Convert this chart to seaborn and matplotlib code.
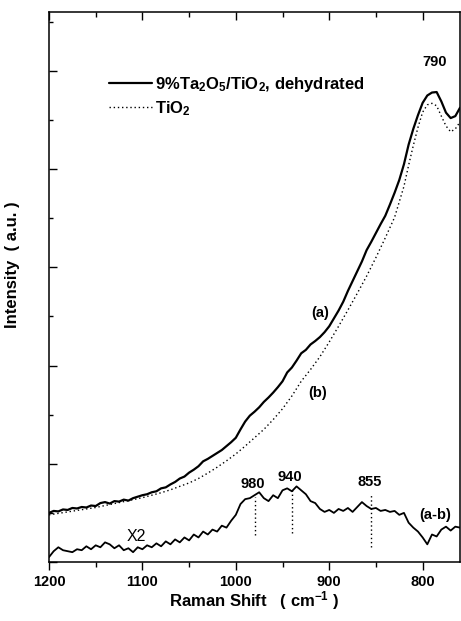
import numpy as np
import pandas as pd
import matplotlib
matplotlib.use("Agg")
import matplotlib.pyplot as plt
from matplotlib.ticker import MultipleLocator, NullFormatter
import seaborn as sns

# ---------------- data ----------------
# Raman shift grid (cm-1), 5 cm-1 steps
shift_a = list(range(1200, 755, -5))
intensity_a = [
    1.00, 1.04, 1.03, 1.07, 1.06, 1.10, 1.09, 1.12, 1.11, 1.15,
    1.14, 1.20, 1.22, 1.19, 1.24, 1.23, 1.27, 1.25, 1.30, 1.33,
    1.36, 1.38, 1.42, 1.44, 1.50, 1.52, 1.58, 1.63, 1.70, 1.74,
    1.82, 1.88, 1.95, 2.05, 2.10, 2.16, 2.22, 2.28, 2.36, 2.44,
    2.53, 2.70, 2.86, 2.98, 3.06, 3.15, 3.26, 3.35, 3.45, 3.56,
    3.68, 3.86, 3.96, 4.10, 4.25, 4.32, 4.43, 4.50, 4.58, 4.68,
    4.80, 4.96, 5.12, 5.30, 5.52, 5.72, 5.92, 6.12, 6.35, 6.52,
    6.70, 6.88, 7.05, 7.28, 7.52, 7.78, 8.10, 8.50, 8.82, 9.10,
    9.35, 9.50, 9.56, 9.57, 9.38, 9.15, 9.04, 9.08, 9.25,
]

shift_b = [1200, 1190, 1180, 1170, 1160, 1150, 1140, 1130, 1120, 1110,
           1100, 1090, 1080, 1070, 1060, 1050, 1040, 1030, 1020, 1010,
           1000, 990, 980, 970, 960, 950, 940, 930, 920, 910,
           900, 890, 880, 870, 860, 850, 840, 830, 820, 815,
           810, 805, 800, 795, 790, 785, 780, 775, 770, 765, 760]
intensity_b = [0.96, 0.99, 1.02, 1.05, 1.08, 1.11, 1.15, 1.19, 1.23, 1.27,
               1.31, 1.36, 1.41, 1.47, 1.54, 1.61, 1.70, 1.81, 1.93, 2.06,
               2.20, 2.36, 2.53, 2.70, 2.90, 3.12, 3.38, 3.68, 3.92, 4.18,
               4.48, 4.80, 5.13, 5.47, 5.82, 6.20, 6.60, 7.02, 7.65, 8.08,
               8.48, 8.85, 9.16, 9.31, 9.34, 9.29, 9.08, 8.88, 8.76, 8.82, 8.96]

shift_diff = shift_a
intensity_diff = [
    0.10, 0.22, 0.30, 0.24, 0.22, 0.20, 0.26, 0.24, 0.32, 0.26,
    0.34, 0.30, 0.40, 0.36, 0.28, 0.34, 0.24, 0.28, 0.20, 0.30,
    0.26, 0.34, 0.30, 0.38, 0.32, 0.42, 0.36, 0.46, 0.40, 0.50,
    0.44, 0.56, 0.50, 0.62, 0.56, 0.66, 0.62, 0.74, 0.70, 0.84,
    0.96, 1.18, 1.28, 1.30, 1.36, 1.42, 1.30, 1.24, 1.36, 1.30,
    1.46, 1.50, 1.44, 1.54, 1.46, 1.38, 1.24, 1.20, 1.08, 1.02,
    1.06, 1.00, 1.08, 1.04, 1.10, 1.02, 1.12, 1.22, 1.14, 1.08,
    1.10, 1.04, 1.06, 1.02, 1.04, 0.96, 1.00, 0.80, 0.70, 0.62,
    0.50, 0.36, 0.56, 0.52, 0.66, 0.72, 0.64, 0.72, 0.70,
]

peak_positions = [980, 940, 855]
peak_tops = [1.33, 1.47, 1.37]
peak_bottoms = [0.55, 0.59, 0.31]
peak_labels = ["980", "940", "855"]

x_ticks = [1200, 1100, 1000, 900, 800]
x_minor_ticks = [1150, 1050, 950, 850]

# ---------------- style ----------------
sns.set_style("ticks")
plt.rcParams['font.family'] = ['Liberation Sans', 'DejaVu Sans']
plt.rcParams['font.weight'] = 'bold'
plt.rcParams['text.color'] = 'black'
plt.rcParams['axes.labelcolor'] = 'black'
plt.rcParams['xtick.color'] = 'black'
plt.rcParams['ytick.color'] = 'black'
plt.rcParams['axes.edgecolor'] = 'black'
plt.rcParams['axes.linewidth'] = 1.1
plt.rcParams['mathtext.fontset'] = 'custom'
plt.rcParams['mathtext.rm'] = 'Liberation Sans:bold'
plt.rcParams['mathtext.bf'] = 'Liberation Sans:bold'
plt.rcParams['mathtext.it'] = 'Liberation Sans:bold'
plt.rcParams['mathtext.default'] = 'rm'

fig = plt.figure(figsize=(4.61, 6.21), dpi=100)
ax = fig.add_axes([49 / 461, (621 - 562) / 621, 411 / 461, 550 / 621])

df_a = pd.DataFrame({"shift": shift_a, "I": intensity_a})
df_b = pd.DataFrame({"shift": shift_b, "I": intensity_b})
df_d = pd.DataFrame({"shift": shift_diff, "I": intensity_diff})

sns.lineplot(data=df_a, x="shift", y="I", ax=ax, color="black", lw=1.6,
             label=r"9%Ta$_2$O$_5$/TiO$_2$, dehydrated", sort=False)
sns.lineplot(data=df_b, x="shift", y="I", ax=ax, color="black", lw=1.0,
             linestyle=(0, (1, 2)), label=r"TiO$_2$", sort=False)
sns.lineplot(data=df_d, x="shift", y="I", ax=ax, color="black", lw=1.3,
             sort=False, legend=False)

for xp, yt, yb, lab in zip(peak_positions, peak_tops, peak_bottoms, peak_labels):
    ax.plot([xp, xp], [yb, yt], color="black", lw=1.0, linestyle=(0, (1, 2)))
    ax.text(xp + 2, yt + 0.12, lab, ha="center", va="bottom",
            fontsize=10.5, fontweight="bold")

ax.text(910, 5.08, "(a)", ha="center", va="center", fontsize=10.5, fontweight="bold")
ax.text(912, 3.45, "(b)", ha="center", va="center", fontsize=10.5, fontweight="bold")
ax.text(787, 0.96, "(a-b)", ha="center", va="center", fontsize=10.5, fontweight="bold")
ax.text(787, 10.18, "790", ha="center", va="center", fontsize=10.5, fontweight="bold")
ax.text(1106, 0.51, "X2", ha="center", va="center", fontsize=11.5, fontweight="normal")

ax.set_xlim(1200, 760)
ax.set_ylim(0, 11.2)
ax.set_xticks(x_ticks)
ax.set_xticks(x_minor_ticks, minor=True)
ax.yaxis.set_major_locator(MultipleLocator(2))
ax.yaxis.set_minor_locator(MultipleLocator(1))
ax.yaxis.set_major_formatter(NullFormatter())

ax.tick_params(axis="x", which="both", bottom=True, top=False, direction="out",
               labelsize=10.5, pad=3, width=1.0)
ax.tick_params(axis="x", which="major", length=6)
ax.tick_params(axis="x", which="minor", length=3.5)
ax.tick_params(axis="y", which="both", left=True, direction="in", width=1.0)
ax.tick_params(axis="y", which="major", length=6)
ax.tick_params(axis="y", which="minor", length=3)

# inward ticks along the top frame, placed at the same tick values
top_tf = ax.get_xaxis_transform()
ax.vlines(x_ticks, 1 - 0.0145, 1, transform=top_tf, color="black", lw=1.0,
          clip_on=False, zorder=5)
ax.vlines(x_minor_ticks, 1 - 0.0085, 1, transform=top_tf, color="black", lw=1.0,
          clip_on=False, zorder=5)

ax.set_xlabel(r"Raman Shift   ( cm$^{-1}$ )", fontsize=12, fontweight="bold")
ax.set_ylabel("Intensity  ( a.u. )", fontsize=12, fontweight="bold")
ax.xaxis.set_label_coords(0.5, -0.05)
ax.yaxis.set_label_coords(-0.07, 0.54)

leg = ax.legend(loc="upper left", bbox_to_anchor=(0.145, 0.885), frameon=False,
                handlelength=2.6, handletextpad=0.2,
                labelspacing=0.3, borderpad=0, borderaxespad=0,
                prop={"weight": "bold", "size": 12})

for lab in ax.get_xticklabels():
    lab.set_fontweight("bold")

fig.savefig("out.png", dpi=100)
